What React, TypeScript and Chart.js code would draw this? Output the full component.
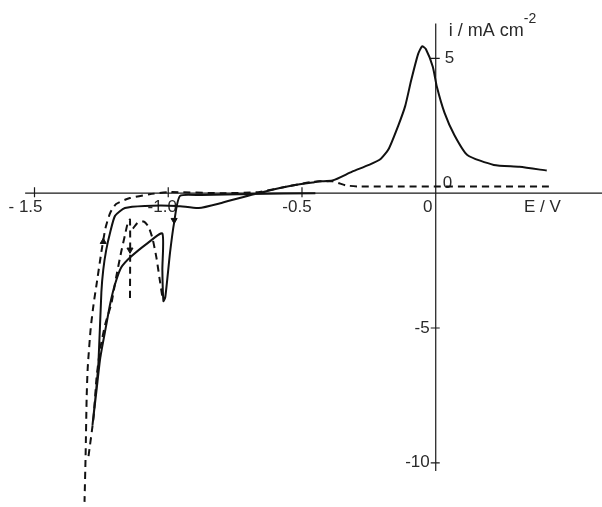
import React, { useEffect, useRef } from 'react';
import { Chart, registerables } from 'chart.js';
Chart.register(...registerables);

// ---- data (E / V, i / mA cm^-2) ----
const SOLID_E = [-0.45, -0.69, -0.875, -0.956, -0.978, -0.993, -1.011, -1.018, -1.022, -1.022, -1.077, -1.14, -1.176, -1.199, -1.217, -1.232, -1.254, -1.268, -1.283,
  -1.272, -1.261, -1.25, -1.243, -1.232, -1.217, -1.199, -1.162, -1.088, -0.967, -0.886, -0.801, -0.68, -0.555, -0.46, -0.434, -0.386, -0.3125, -0.25, -0.206, -0.176, -0.14, -0.114, -0.092, -0.066, -0.051, -0.037, -0.011, 0.004, 0.033, 0.07, 0.118, 0.217, 0.313, 0.415];
const SOLID_I = [0, -0.03, -0.07, -0.1, -1.09, -2.18, -3.85, -4.0, -2.84, -1.49, -1.85, -2.36, -2.76, -3.38, -4.1, -4.9, -6.1, -7.3, -8.58,
  -7.56, -6.3, -3.67, -2.84, -2.11, -1.45, -0.84, -0.55, -0.47, -0.47, -0.55, -0.36, -0.04, 0.25, 0.4, 0.44, 0.47, 0.8, 1.05, 1.27, 1.64, 2.51, 3.24, 4.18, 5.16, 5.45, 5.35, 4.69, 3.96, 2.98, 2.15, 1.42, 1.05, 0.98, 0.84];

const DASH_OUTER_E = [0.423, -0.287, -0.335, -0.386, -0.46, -0.555, -0.665, -0.8, -0.993, -1.07, -1.143, -1.195, -1.217, -1.235, -1.25, -1.268, -1.279, -1.29, -1.301, -1.305, -1.309, -1.313];
const DASH_OUTER_I = [0.25, 0.25, 0.29, 0.44, 0.42, 0.25, 0.04, 0, 0.04, -0.04, -0.18, -0.4, -0.73, -1.31, -2.18, -3.38, -4.11, -5.02, -6.47, -7.56, -9.75, -11.45];

const DASH_INNER_E = [-1.298, -1.279, -1.268, -1.254, -1.235, -1.213, -1.195, -1.176, -1.162, -1.151, -1.143, -1.143];
const DASH_INNER_I = [-9.75, -8.29, -6.84, -5.75, -4.84, -4.11, -3.13, -2.18, -1.56, -1.09, -0.98, -3.93];

const DASH_HUMP_E = [-1.132, -1.114, -1.092, -1.074, -1.059, -1.044, -1.033, -1.022];
const DASH_HUMP_I = [-1.31, -1.09, -1.05, -1.24, -1.67, -2.4, -3.13, -3.85];

const ARROW_E = [-0.978, -1.143, -1.243];
const ARROW_I = [-1.0, -2.1, -1.8];
const ARROW_ROT = [180, 180, 0];

const X_TICKS = [-1.5, -1.0, -0.5, 0];
const X_TICK_LABELS = ['- 1.5', '-1.0', '-0.5', '0'];
const Y_TICKS = [5, 0, -5, -10];
const Y_TICK_LABELS = ['5', '0', '-5', '-10'];
const X_TITLE = 'E / V';
const Y_TITLE = 'i / mA cm';
const Y_TITLE_SUP = '-2';

const X_MIN = -1.6103, X_MAX = 0.6029;
const Y_MIN = -11.4545, Y_MAX = 6.982;

const pts = (xs: number[], ys: number[]) => xs.map((x, k) => ({ x, y: ys[k] }));

const FONT = '"Liberation Sans", Arial, sans-serif';

const axesPlugin = {
  id: 'crossAxes',
  beforeDatasetsDraw(chart: any) {
    const { ctx } = chart;
    const sx = chart.scales.x, sy = chart.scales.y;
    const x0 = sx.getPixelForValue(0), y0 = sy.getPixelForValue(0);
    ctx.save();
    ctx.strokeStyle = '#1a1a1a';
    ctx.lineWidth = 1.2;
    ctx.beginPath();
    ctx.moveTo(sx.getPixelForValue(-1.535), y0);
    ctx.lineTo(chart.width, y0);
    ctx.moveTo(x0, sy.getPixelForValue(6.3));
    ctx.lineTo(x0, sy.getPixelForValue(-10.3));
    X_TICKS.forEach((v) => {
      if (v === 0) return;
      const px = sx.getPixelForValue(v);
      ctx.moveTo(px, y0 - 6); ctx.lineTo(px, y0 + 4);
    });
    Y_TICKS.forEach((v) => {
      if (v === 0) return;
      const py = sy.getPixelForValue(v);
      ctx.moveTo(x0 - 5, py); ctx.lineTo(x0 + 4, py);
    });
    ctx.stroke();

    ctx.fillStyle = '#2a2a2a';
    ctx.font = '17px ' + FONT;
    ctx.textBaseline = 'middle';
    ctx.textAlign = 'center';
    X_TICKS.forEach((v, k) => {
      const px = sx.getPixelForValue(v);
      let dx = 0;
      if (v === -1.5) dx = -9;
      if (v === -1.0) dx = -6;
      if (v === -0.5) dx = -5;
      if (v === 0) dx = -8;
      ctx.fillText(X_TICK_LABELS[k], px + dx, y0 + 14);
    });
    Y_TICKS.forEach((v, k) => {
      const py = sy.getPixelForValue(v);
      if (v >= 0) {
        ctx.textAlign = 'left';
        ctx.fillText(Y_TICK_LABELS[k], x0 + (v === 0 ? 7 : 9), v === 0 ? py - 10 : py);
      } else {
        ctx.textAlign = 'right';
        ctx.fillText(Y_TICK_LABELS[k], x0 - 6, py);
      }
    });
    ctx.textAlign = 'left';
    ctx.fillText(X_TITLE, sx.getPixelForValue(0.33), y0 + 14);
    ctx.font = '18px ' + FONT;
    ctx.fillText(Y_TITLE, x0 + 13, sy.getPixelForValue(6.0));
    const w = ctx.measureText(Y_TITLE).width;
    ctx.font = '14px ' + FONT;
    ctx.fillText(Y_TITLE_SUP, x0 + 13 + w, sy.getPixelForValue(6.45));
    ctx.restore();
  },
};

export default function App() {
  const ref = useRef<HTMLCanvasElement | null>(null);
  useEffect(() => {
    if (!ref.current) return;
    const line = (data: any, dashed: boolean) => ({
      data,
      showLine: true,
      borderColor: '#111',
      backgroundColor: '#111',
      borderWidth: 2,
      borderDash: dashed ? [7, 5] : [],
      pointRadius: 0,
      tension: 0.2,
      fill: false,
    });
    const chart = new Chart(ref.current, {
      type: 'scatter',
      data: {
        datasets: [
          line(pts(SOLID_E, SOLID_I), false),
          line(pts(DASH_OUTER_E, DASH_OUTER_I), true),
          line(pts(DASH_INNER_E, DASH_INNER_I), true),
          line(pts(DASH_HUMP_E, DASH_HUMP_I), true),
          {
            data: pts(ARROW_E, ARROW_I),
            showLine: false,
            pointStyle: 'triangle',
            pointRadius: 3.5,
            rotation: ARROW_ROT,
            backgroundColor: '#111',
            borderColor: '#111',
            borderWidth: 1,
          } as any,
        ],
      },
      options: {
        animation: false,
        responsive: false,
        events: [],
        layout: { padding: 0 },
        plugins: { legend: { display: false }, tooltip: { enabled: false } },
        scales: {
          x: { type: 'linear', min: X_MIN, max: X_MAX, display: false },
          y: { type: 'linear', min: Y_MIN, max: Y_MAX, display: false },
        },
      },
      plugins: [axesPlugin],
    });
    return () => chart.destroy();
  }, []);
  return (
    <div style={{ position: 'absolute', left: 0, top: 0, width: 602, height: 507, background: '#fff' }}>
      <canvas ref={ref} width={602} height={507} />
    </div>
  );
}
